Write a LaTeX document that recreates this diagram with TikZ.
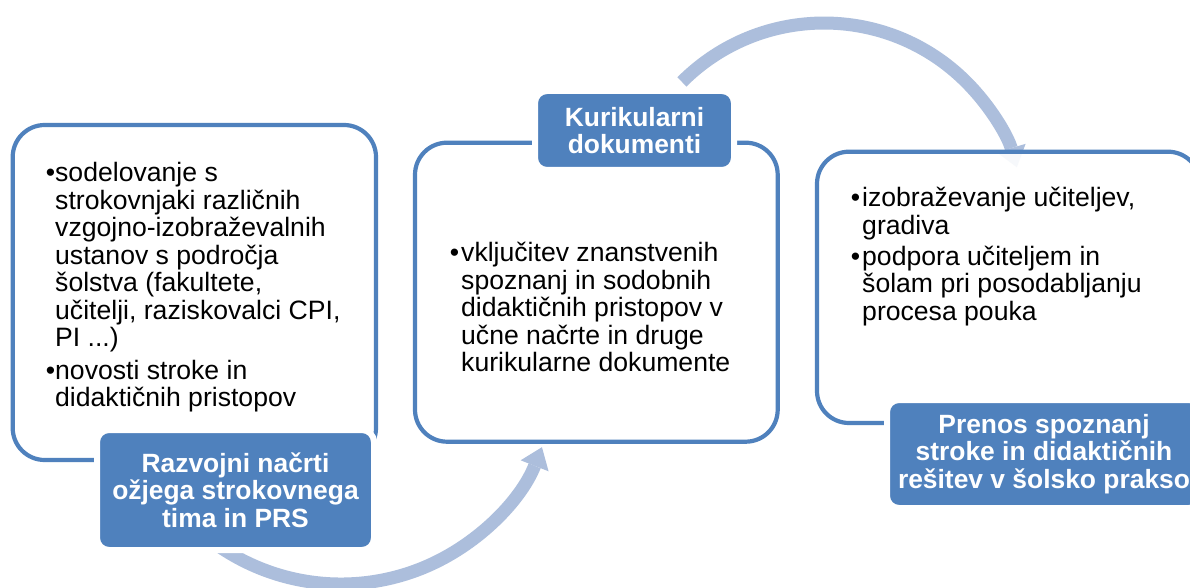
\documentclass[tikz,border=0pt]{standalone}
\usepackage{fontspec}
\setmainfont{Liberation Sans}
\usetikzlibrary{arrows.meta}
\definecolor{bordblue}{RGB}{79,129,189}
\definecolor{arcblue}{RGB}{172,190,220}
\newcommand{\bul}[1]{\leavevmode\llap{•\hspace{#1}}}
\tikzset{
  panel/.style={draw=bordblue, line width=4.2pt, fill=white, rounded corners=32pt, inner sep=0pt},
  tag/.style={fill=bordblue, draw=white, line width=6pt, rounded corners=12pt, text=white,
    font=\fontsize{26.4}{27.5}\selectfont\bfseries, align=center, inner sep=0pt},
  body/.style={anchor=base west, inner sep=0pt, font=\fontsize{26.6}{27.5}\selectfont},
  flow/.style={draw=arcblue, line width=13pt, -{Triangle[width=30pt,length=20pt,line width=0pt]}},
}
\begin{document}
\begin{tikzpicture}[x=1pt,y=1pt]
\clip (0,0) rectangle (1190,-588);
\useasboundingbox (0,0) rectangle (1190,-588);
\fill[white] (0,0) rectangle (1190,-588);

% arcs
\coordinate (topstart) at (681.9,-81.9);
\draw[flow] (topstart) arc[start angle=135, end angle=16.4, radius=201pt];
\coordinate (botstart) at (220.2,-547.1);
\draw[flow] (botstart) arc[start angle=236, end angle=338.5, radius=216pt];

% panels
\node[panel, minimum width=363.3pt, minimum height=335pt] (b1) at (194.35,-292.5) {};
\node[panel, minimum width=362.7pt, minimum height=299pt] (b2) at (596.35,-292.2) {};
\node[panel, fill opacity=0.9, minimum width=383pt, minimum height=271.3pt] (b3) at (1008.5,-287.35) {};

% body texts
\node[body] (t1a) at (55,-181.7) {\parbox[t]{330pt}{\bul{0pt}sodelovanje s\\strokovnjaki različnih\\vzgojno-izobraževalnih\\ustanov s področja\\šolstva (fakultete,\\učitelji, raziskovalci CPI,\\PI ...)}};
\node[body] (t1b) at (55,-379) {\parbox[t]{330pt}{\bul{0pt}novosti stroke in\\didaktičnih pristopov}};
\node[body] (t2a) at (461,-261.7) {\parbox[t]{320pt}{\bul{2pt}vključitev znanstvenih\\spoznanj in sodobnih\\didaktičnih pristopov v\\učne načrte in druge\\kurikularne dokumente}};
\node[body] (t3a) at (862,-206.7) {\parbox[t]{320pt}{\bul{2pt}izobraževanje učiteljev,\\gradiva}};
\node[body] (t3b) at (862,-265) {\parbox[t]{320pt}{\bul{2pt}podpora učiteljem in\\šolam pri posodabljanju\\procesa pouka}};

% labels
\node[tag, minimum width=277pt, minimum height=120pt] (l1) at (235.5,-490) {Razvojni načrti\\ožjega strokovnega\\tima in PRS};
\node[tag, minimum width=199pt, minimum height=79pt] (l2) at (634.5,-130.5) {Kurikularni\\dokumenti};
\node[tag, minimum width=314pt, minimum height=108pt] (l3) at (1044,-454) {Prenos spoznanj\\stroke in didaktičnih\\rešitev v šolsko prakso};
\end{tikzpicture}
\end{document}
